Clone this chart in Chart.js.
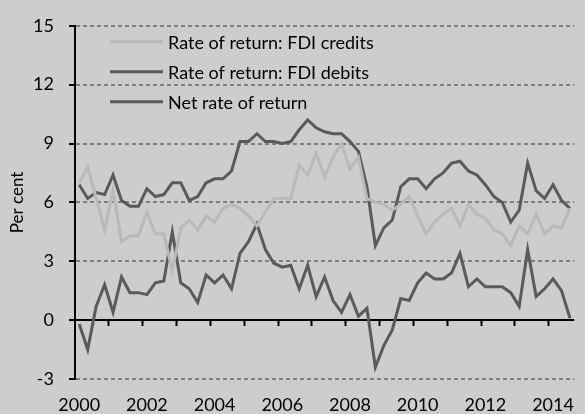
<!DOCTYPE html>
<html>
<head>
<meta charset="utf-8">
<script src="https://cdn.jsdelivr.net/npm/chart.js@4/dist/chart.umd.min.js"></script>
<style>
  html, body { margin: 0; padding: 0; background: #cdcdcd; }
  canvas { display: block; }
</style>
</head>
<body>
<canvas id="fdiChart" width="585" height="414"></canvas>
<script>
// quarterly, 2000 Q1 - 2014 Q3
const years = ['2000', '2001', '2002', '2003', '2004', '2005', '2006', '2007',
  '2008', '2009', '2010', '2011', '2012', '2013', '2014'];
const quarterNames = ['Q1', 'Q2', 'Q3', 'Q4'];
const yearTickLabels = ['2000', '2002', '2004', '2006', '2008', '2010', '2012', '2014'];

const fdiCredits = [
  7.0, 7.8, 6.2, 4.6, 6.6, 4.0, 4.3, 4.3, 5.5, 4.4, 4.4, 2.5,
  4.7, 5.1, 4.6, 5.3, 5.0, 5.7, 5.9, 5.7, 5.3, 4.8, 5.5, 6.2,
  6.2, 6.2, 7.9, 7.4, 8.5, 7.3, 8.3, 9.0, 7.7, 8.3, 6.2, 6.0,
  5.9, 5.6, 5.9, 6.3, 5.3, 4.4, 5.0, 5.4, 5.7, 4.8, 5.9, 5.4,
  5.2, 4.6, 4.4, 3.8, 4.8, 4.4, 5.4, 4.4, 4.8, 4.7, 5.7
];
const fdiDebits = [
  6.9, 6.2, 6.5, 6.4, 7.4, 6.1, 5.8, 5.8, 6.7, 6.3, 6.4, 7.0,
  7.0, 6.1, 6.3, 7.0, 7.2, 7.2, 7.6, 9.1, 9.1, 9.5, 9.1, 9.1,
  9.0, 9.1, 9.7, 10.2, 9.8, 9.6, 9.5, 9.5, 9.1, 8.6, 6.8, 3.8,
  4.7, 5.1, 6.8, 7.2, 7.2, 6.7, 7.2, 7.5, 8.0, 8.1, 7.6, 7.4,
  6.9, 6.3, 6.0, 5.0, 5.6, 8.0, 6.6, 6.2, 6.9, 6.1, 5.7
];
const netReturn = [
  -0.2, -1.5, 0.7, 1.8, 0.4, 2.2, 1.4, 1.4, 1.3, 1.9, 2.0, 4.5,
  1.9, 1.6, 0.9, 2.3, 1.9, 2.3, 1.6, 3.4, 4.0, 4.9, 3.6, 2.9,
  2.7, 2.8, 1.6, 2.8, 1.2, 2.2, 1.0, 0.4, 1.3, 0.2, 0.6, -2.4,
  -1.3, -0.5, 1.1, 1.0, 1.9, 2.4, 2.1, 2.1, 2.4, 3.4, 1.7, 2.1,
  1.7, 1.7, 1.7, 1.4, 0.7, 3.6, 1.2, 1.6, 2.1, 1.5, 0.1
];
const seriesNames = ['Rate of return: FDI credits', 'Rate of return: FDI debits', 'Net rate of return'];

const quarterLabels = [];
years.forEach(function (y) {
  quarterNames.forEach(function (q) {
    if (quarterLabels.length < fdiCredits.length) quarterLabels.push(y + ' ' + q);
  });
});

const fontFamily = 'Lato, "Open Sans", sans-serif';
const darkGrey = '#5a5a5a';
const lightGrey = '#b9b9b9';

// legend drawn inside the plot, top left
const insideLegend = {
  id: 'insideLegend',
  afterDatasetsDraw(chart) {
    const ctx = chart.ctx;
    const area = chart.chartArea;
    ctx.save();
    ctx.font = '18px ' + fontFamily;
    ctx.textBaseline = 'middle';
    chart.data.datasets.forEach(function (ds, i) {
      const y = area.top + 16 + i * 30;
      ctx.strokeStyle = ds.borderColor;
      ctx.lineWidth = 3;
      ctx.beginPath();
      ctx.moveTo(area.left + 35, y);
      ctx.lineTo(area.left + 88, y);
      ctx.stroke();
      ctx.fillStyle = '#000';
      ctx.fillText(ds.label, area.left + 93, y + 1);
    });
    ctx.restore();
  }
};

new Chart(document.getElementById('fdiChart').getContext('2d'), {
  type: 'line',
  data: {
    labels: quarterLabels,
    datasets: [
      { label: seriesNames[0], data: fdiCredits, borderColor: lightGrey },
      { label: seriesNames[1], data: fdiDebits, borderColor: darkGrey },
      { label: seriesNames[2], data: netReturn, borderColor: darkGrey }
    ]
  },
  options: {
    responsive: false,
    devicePixelRatio: 1,
    animation: false,
    layout: { padding: { top: 23, right: 3, left: 0, bottom: 0 } },
    elements: {
      line: { borderWidth: 3, tension: 0 },
      point: { radius: 0 }
    },
    scales: {
      x: {
        type: 'category',
        position: { y: 0 },
        offset: true,
        grid: {
          offset: true,
          drawOnChartArea: false,
          drawTicks: true,
          tickLength: 6,
          tickWidth: 2,
          tickColor: function (c) {
            return (c.index > 0 && c.index % 4 === 0) ? '#000' : 'rgba(0,0,0,0)';
          }
        },
        border: { display: false },
        ticks: { display: false, autoSkip: false }
      },
      x2: {
        type: 'category',
        position: 'bottom',
        offset: true,
        grid: { display: false, drawTicks: false },
        border: { display: false },
        ticks: {
          autoSkip: false,
          maxRotation: 0,
          padding: 15,
          color: '#000',
          font: { family: fontFamily, size: 18 },
          callback: function (val) {
            const parts = this.getLabelForValue(val).split(' ');
            return (parts[1] === 'Q1' && yearTickLabels.includes(parts[0])) ? parts[0] : '';
          }
        },
        afterFit: function (scale) { scale.height = 35; }
      },
      y: {
        min: -3,
        max: 15,
        ticks: {
          stepSize: 3,
          padding: 15,
          color: '#000',
          font: { family: fontFamily, size: 18 }
        },
        grid: {
          color: function (c) { return c.tick && c.tick.value === 0 ? '#000' : '#808080'; },
          lineWidth: 2,
          tickLength: 6,
          tickWidth: 2,
          tickColor: '#000'
        },
        border: {
          display: true,
          color: '#000',
          width: 2,
          dash: function (c) { return c.tick && c.tick.value === 0 ? [] : [4, 3]; }
        },
        title: {
          display: true,
          text: 'Per cent',
          color: '#000',
          font: { family: fontFamily, size: 17 },
          padding: { top: 7, bottom: 0 }
        },
        afterFit: function (scale) { scale.width = 75; }
      }
    },
    plugins: {
      legend: { display: false },
      tooltip: { enabled: false }
    }
  },
  plugins: [insideLegend]
});
</script>
</body>
</html>
